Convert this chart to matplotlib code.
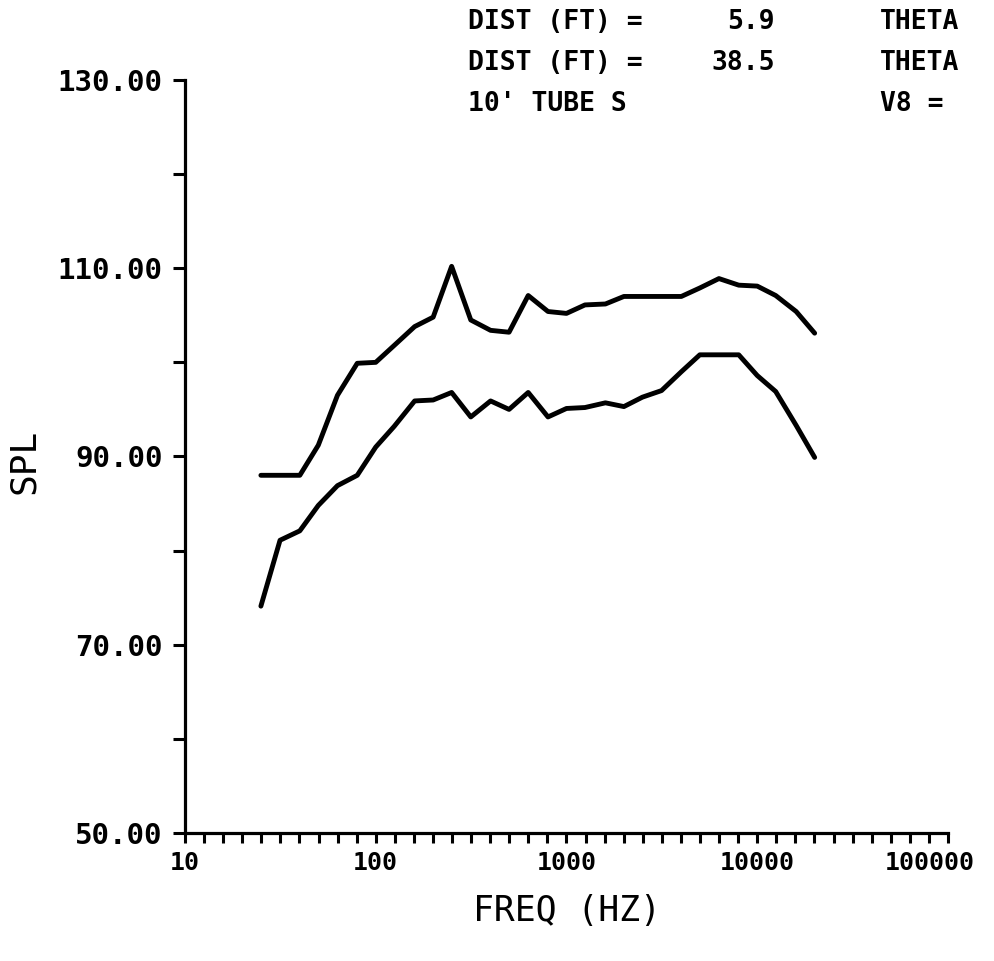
import numpy as np
import matplotlib
matplotlib.use("Agg")
import matplotlib.pyplot as plt
import matplotlib.transforms as mtransforms
from matplotlib.ticker import FixedLocator, NullFormatter

# one-third octave band centre frequencies (Hz)
freq = [25, 31.5, 40, 50, 63, 80, 100, 125, 160, 200, 250, 315, 400, 500, 630,
        800, 1000, 1250, 1600, 2000, 2500, 3150, 4000, 5000, 6300, 8000,
        10000, 12500, 16000, 20000]

# upper curve: DIST (FT) = 5.9
spl_near = [88.0, 88.0, 88.0, 91.2, 96.5, 99.9, 100.0, 101.8, 103.8, 104.8,
            110.2, 104.5, 103.4, 103.2, 107.1, 105.4, 105.2, 106.1, 106.2,
            107.0, 107.0, 107.0, 107.0, 107.9, 108.9, 108.2, 108.1, 107.1,
            105.4, 103.1]

# lower curve: DIST (FT) = 38.5
spl_far = [74.1, 81.1, 82.1, 84.8, 86.9, 88.0, 91.0, 93.2, 95.9, 96.0, 96.8,
           94.2, 95.9, 95.0, 96.8, 94.2, 95.1, 95.2, 95.7, 95.3, 96.3, 97.0,
           99.0, 100.8, 100.8, 100.8, 98.6, 96.9, 93.3, 89.9]

x_ticks = [10, 100, 1000, 10000, 100000]
x_labels = ["10", "100", "1000", "10000", "100000"]
y_ticks = [50, 70, 90, 110, 130]
y_minor = [60, 80, 100, 120]

mono = "DejaVu Sans Mono"

fig = plt.figure(figsize=(9.94, 9.61), dpi=100)
ax = fig.add_axes([0.1861, 0.1332, 0.7676, 0.7836])

ax.plot(freq, spl_near, color="black", lw=3.5, solid_capstyle="round", solid_joinstyle="round")
ax.plot(freq, spl_far, color="black", lw=3.5, solid_capstyle="round", solid_joinstyle="round")

ax.set_xscale("log")
ax.set_xlim(10, 100000)
ax.set_ylim(50, 130)

ax.xaxis.set_major_locator(FixedLocator(x_ticks))
ax.xaxis.set_minor_locator(FixedLocator(10 ** np.arange(1.0, 5.0, 0.1)))
ax.xaxis.set_minor_formatter(NullFormatter())
ax.set_xticklabels(x_labels, fontfamily=mono, fontweight="bold", fontsize=18)

ax.set_yticks(y_ticks)
ax.set_yticks(y_minor, minor=True)
ax.set_yticklabels(["%.2f" % v for v in y_ticks], fontfamily=mono, fontweight="bold", fontsize=21)

for s in ["top", "right"]:
    ax.spines[s].set_visible(False)
for s in ["left", "bottom"]:
    ax.spines[s].set_linewidth(2.3)

ax.tick_params(axis="x", which="both", direction="out", length=7, width=2.2, pad=6)
ax.tick_params(axis="y", which="both", direction="out", length=9, width=2.2, pad=7)

# the last label sits a little left of its tick in the original
last = ax.get_xticklabels()[-1]
shift = mtransforms.ScaledTranslation(-0.18, 0, fig.dpi_scale_trans)
last.set_transform(last.get_transform() + shift)

ax.set_xlabel("FREQ (HZ)", fontfamily=mono, fontsize=25, labelpad=14)
fig.text(0.024, 0.52, "SPL", rotation=90, fontfamily=mono, fontsize=26,
         ha="center", va="center")

# header text
rows = [("DIST (FT) =", "5.9", "THETA"),
        ("DIST (FT) =", "38.5", "THETA"),
        ("10' TUBE S", "", "V8 =")]
for i, (a, b, c) in enumerate(rows):
    yy = 1 - (22 + 41 * i) / 961
    fig.text(468 / 994, yy, a, fontfamily=mono, fontweight="bold", fontsize=19, va="center")
    fig.text(775 / 994, yy, b, fontfamily=mono, fontweight="bold", fontsize=19, va="center", ha="right")
    fig.text(880 / 994, yy, c, fontfamily=mono, fontweight="bold", fontsize=19, va="center")

fig.savefig("out.png", dpi=100)
